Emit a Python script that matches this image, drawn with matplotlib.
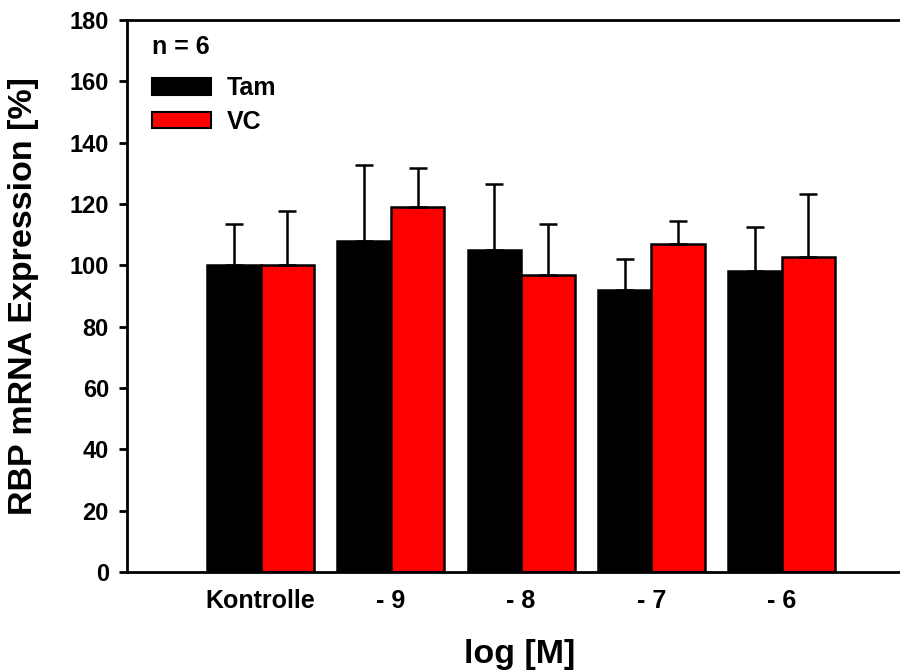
import numpy as np
import matplotlib
matplotlib.use('Agg')
from matplotlib import pyplot as plt
from matplotlib.patches import Patch

plt.rcParams['font.family'] = ['Liberation Sans', 'DejaVu Sans']
plt.rcParams['font.weight'] = 'bold'

groups = ['Kontrolle', '- 9', '- 8', '- 7', '- 6']
tam_mean = [100, 108, 105, 92, 98]
tam_err = [13.5, 24.7, 21.5, 10, 14.4]
vc_mean = [100, 119, 97, 107, 102.7]
vc_err = [17.6, 12.7, 16.5, 7.5, 20.7]
yticks = [0, 20, 40, 60, 80, 100, 120, 140, 160, 180]

fig = plt.figure(figsize=(9, 6.72), dpi=100)
ax = fig.add_axes([127 / 900, 1 - 572 / 672, 773 / 900, 552 / 672])

x = np.arange(len(groups))
w = 0.41
err_kw = dict(elinewidth=1.8, capsize=6.5, capthick=1.8, ecolor='black')
ax.bar(x - w / 2, tam_mean, w, color='black', edgecolor='black', linewidth=1.8,
       yerr=[np.zeros(len(x)), tam_err], error_kw=err_kw, label='Tam', zorder=2)
ax.bar(x + w / 2, vc_mean, w, color='#ff0000', edgecolor='black', linewidth=1.8,
       yerr=[np.zeros(len(x)), vc_err], error_kw=err_kw, label='VC', zorder=2)

ax.set_xlim(-1.026, 4.909)
ax.set_ylim(0, 180)
ax.set_yticks(yticks)
ax.set_xticks(x)
ax.set_xticklabels(groups)

for s in ['left', 'top', 'bottom']:
    ax.spines[s].set_linewidth(2)
ax.spines['right'].set_visible(False)

ax.tick_params(axis='y', length=6, width=2, pad=7, labelsize=17)
ax.tick_params(axis='x', length=0, pad=12, labelsize=18)

ax.set_ylabel('RBP mRNA Expression [%]', fontsize=24.5, fontweight='bold')
ax.yaxis.set_label_coords(-0.114, 0.5)
ax.set_xlabel('log [M]', fontsize=24.5, fontweight='bold')
ax.xaxis.set_label_coords(0.508, -0.122)

handles = [Patch(facecolor='black', edgecolor='black', linewidth=1.5),
           Patch(facecolor='#ff0000', edgecolor='black', linewidth=1.5)]
leg = ax.legend(handles, ['Tam', 'VC'], title='n = 6', alignment='left',
                loc='upper left', bbox_to_anchor=(0.032, 0.972), frameon=False,
                borderpad=0, borderaxespad=0, handlelength=2.36, handleheight=0.64,
                handletextpad=0.65, labelspacing=0.38,
                prop={'size': 18, 'weight': 'bold'},
                title_fontproperties={'size': 18, 'weight': 'bold'})
leg._legend_box.sep = 12

fig.savefig('out.png', dpi=100)
